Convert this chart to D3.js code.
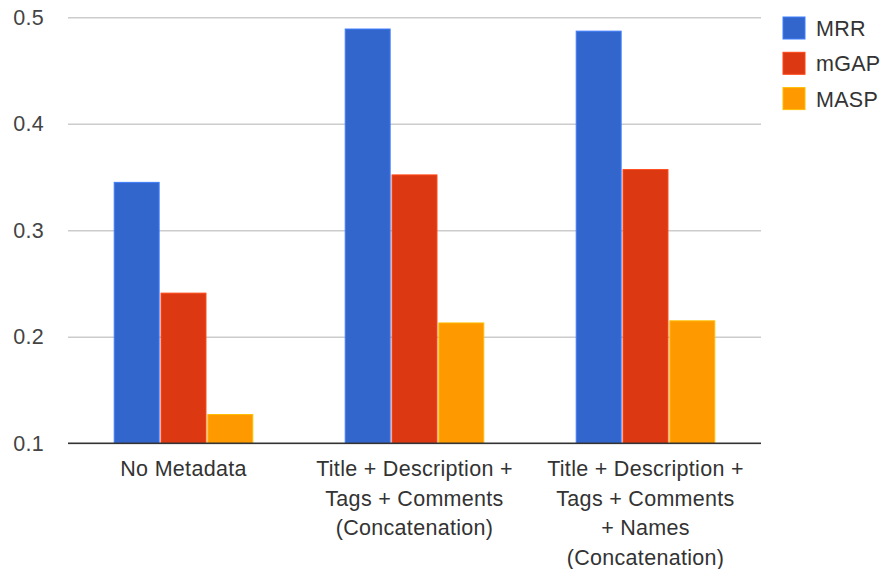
<!DOCTYPE html>
<html>
<head>
<meta charset="utf-8">
<script src="https://cdnjs.cloudflare.com/ajax/libs/d3/7.8.5/d3.min.js"></script>
<style>
  html, body { margin: 0; padding: 0; background: #fff; }
  svg { display: block; font-family: "Liberation Sans", Arial, sans-serif; letter-spacing: 0.3px; }
</style>
</head>
<body>
<svg id="chart" width="880" height="569"></svg>
<script>
// Retrieval quality by metadata configuration
const categories = [
  ["No Metadata"],
  ["Title + Description +", "Tags + Comments", "(Concatenation)"],
  ["Title + Description +", "Tags + Comments", "+ Names", "(Concatenation)"]
];
const seriesNames = ["MRR", "mGAP", "MASP"];
const mrr  = [0.345, 0.489, 0.487];
const mgap = [0.241, 0.352, 0.357];
const masp = [0.127, 0.213, 0.215];
const seriesValues = [mrr, mgap, masp];
const colors = ["#3366cc", "#dc3912", "#ff9900"];
const yTicks = [0.1, 0.2, 0.3, 0.4, 0.5];

const svg = d3.select("#chart");
const plot = { left: 68, right: 761, top: 17.3, bottom: 443.3 };
const fontSize = 21.5;

const x0 = d3.scaleBand()
  .domain(d3.range(categories.length))
  .range([plot.left, plot.right])
  .paddingInner(0.4)
  .paddingOuter(0.2);

const x1 = d3.scaleBand()
  .domain(d3.range(seriesNames.length))
  .range([0, x0.bandwidth()])
  .paddingInner(0.04);

const y = d3.scaleLinear().domain([0.1, 0.5]).range([plot.bottom, plot.top]);

// Gridlines and value labels
const yAxis = d3.axisLeft(y).tickValues(yTicks).tickFormat(d3.format(".1f"))
  .tickSize(-(plot.right - plot.left)).tickPadding(24);
const gy = svg.append("g").attr("transform", `translate(${plot.left},0)`).call(yAxis);
gy.select(".domain").remove();
gy.selectAll(".tick line").attr("stroke", "#cccccc").attr("stroke-width", 1.5);
gy.selectAll(".tick text")
  .attr("fill", "#444")
  .style("font-size", fontSize + "px")
  .style("font-family", "'Liberation Sans', Arial, sans-serif");

// Bars
const groups = svg.append("g").selectAll("g")
  .data(categories)
  .join("g")
  .attr("transform", (d, i) => `translate(${x0(i)},0)`);

groups.selectAll("rect")
  .data((d, i) => seriesValues.map((vals, s) => ({ s, v: vals[i] })))
  .join("rect")
  .attr("x", d => x1(d.s))
  .attr("width", x1.bandwidth())
  .attr("y", d => y(d.v))
  .attr("height", d => y(0.1) - y(d.v))
  .attr("fill", d => colors[d.s])
  .attr("stroke", d => d3.color(colors[d.s]).brighter(0.6))
  .attr("stroke-width", 1);

// Baseline
svg.append("line")
  .attr("x1", plot.left).attr("x2", plot.right)
  .attr("y1", y(0.1)).attr("y2", y(0.1))
  .attr("stroke", "#333").attr("stroke-width", 1.6);

// Category labels
const xLabels = svg.append("g");
categories.forEach((lines, i) => {
  const cx = x0(i) + x0.bandwidth() / 2;
  const t = xLabels.append("text")
    .attr("x", cx)
    .attr("y", 476)
    .attr("text-anchor", "middle")
    .attr("fill", "#333")
    .style("font-size", fontSize + "px");
  lines.forEach((line, j) => {
    t.append("tspan").attr("x", cx).attr("dy", j === 0 ? 0 : 29.7).text(line);
  });
});

// Legend
const legend = svg.append("g").attr("transform", "translate(783,17)");
seriesNames.forEach((name, i) => {
  const g = legend.append("g").attr("transform", `translate(0,${i * 35.3})`);
  g.append("rect")
    .attr("width", 22).attr("height", 22)
    .attr("fill", colors[i])
    .attr("stroke", d3.color(colors[i]).brighter(0.6))
    .attr("stroke-width", 1);
  g.append("text")
    .attr("x", 33).attr("y", 19)
    .attr("fill", "#333")
    .style("font-size", fontSize + "px")
    .text(name);
});
</script>
</body>
</html>
